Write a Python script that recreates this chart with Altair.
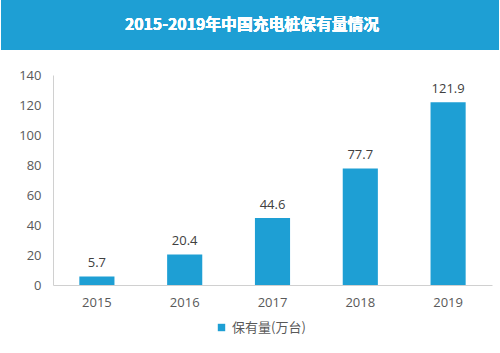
import altair as alt
import pandas as pd

years = ["2015", "2016", "2017", "2018", "2019"]
values = [5.7, 20.4, 44.6, 77.7, 121.9]
series = "保有量(万台)"
title_text = "2015-2019年中国充电桩保有量情况"
y_ticks = [0, 20, 40, 60, 80, 100, 120, 140]

df = pd.DataFrame({"year": years, "value": values, "series": [series] * len(years)})

BLUE = "#1e9fd4"

base = alt.Chart(df)

x_enc = alt.X("year:N", title=None,
              scale=alt.Scale(paddingInner=0.6, paddingOuter=0.3),
              axis=alt.Axis(labelAngle=0, ticks=False, labelPadding=11, domainColor="#d0d0d0",
                            labelColor="#595959", labelFontSize=13, labelFont="Open Sans"))
y_enc = alt.Y("value:Q", title=None,
              scale=alt.Scale(domain=[0, 140]),
              axis=alt.Axis(values=y_ticks, tickCount=8, grid=False, ticks=False, labelPadding=12,
                            labelOverlap=False, labelFlush=False,
                            domainColor="#d0d0d0", labelColor="#595959", labelFontSize=13,
                            labelFont="Open Sans"))

bars = base.mark_bar(color=BLUE).encode(
    x=x_enc,
    y=y_enc,
    color=alt.Color("series:N", title=None,
                    scale=alt.Scale(range=[BLUE]),
                    legend=alt.Legend(orient="none", legendX=162, legendY=246,
                                      direction="horizontal", symbolType="square", symbolSize=55,
                                      labelFontSize=13, labelColor="#595959", labelOffset=4,
                                      labelFont="Noto Sans CJK SC")),
)

labels = base.mark_text(baseline="bottom", dy=-6, fontSize=13, color="#404040",
                        font="Open Sans").encode(
    x=x_enc, y=y_enc, text=alt.Text("value:Q", format=".1f")
)

banner = base.mark_rect(color=BLUE).encode(
    x=alt.value(-52), x2=alt.value(446), y=alt.value(-75), y2=alt.value(-25)
)

title = base.mark_text(text=title_text, fontSize=15.8, fontWeight="bold", color="white",
                       font="Noto Sans CJK SC", align="center", baseline="middle").encode(
    x=alt.value(199), y=alt.value(-50)
)

chart = alt.layer(banner, title, bars, labels).properties(
    width=439, height=210,
    autosize=alt.AutoSizeParams(type="none"),
    padding={"left": 53, "top": 75, "right": 8, "bottom": 68},
).configure_view(stroke=None)

chart.save("out.html", embed_options={"renderer": "svg", "actions": False})
